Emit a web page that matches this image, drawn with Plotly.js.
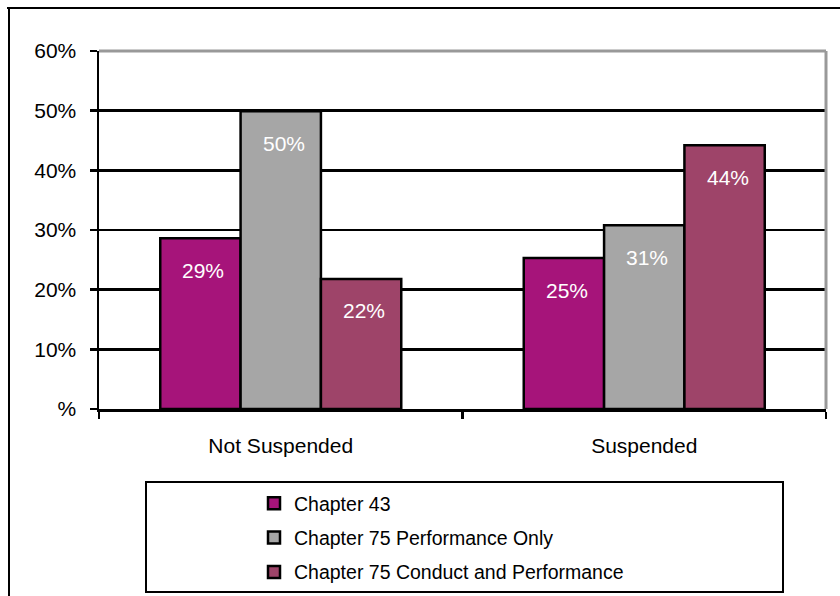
<!DOCTYPE html>
<html>
<head>
<meta charset="utf-8">
<script src="https://cdn.plot.ly/plotly-3.0.1.min.js"></script>
<style>
  html, body { margin: 0; padding: 0; background: #ffffff; }
  #chart { width: 840px; height: 596px; }
</style>
</head>
<body>
<div id="chart"></div>
<script>
// ---- data ----
var categories = ["Not Suspended", "Suspended"];
var seriesNames = ["Chapter 43", "Chapter 75 Performance Only", "Chapter 75 Conduct and Performance"];
var chapter43 = [28.6, 25.3];
var ch75Performance = [49.9, 30.8];
var ch75Conduct = [21.8, 44.2];
var tickValues = [0, 10, 20, 30, 40, 50, 60];
var tickLabels = ["%", "10%", "20%", "30%", "40%", "50%", "60%"];

// ---- styles ----
var colors = ["#A6147A", "#A6A6A6", "#9E4469"];
var font = "'Liberation Sans', Arial, sans-serif";
var W = 840, H = 596;
var mL = 99, mR = 14, mT = 51, mB = 187;
var plotW = W - mL - mR, plotH = H - mT - mB;
var bargap = 0.337;

function px2x(px) { return (px - mL) / plotW; }
function px2y(py) { return (H - mB - py) / plotH; }

var seriesValues = [chapter43, ch75Performance, ch75Conduct];

var traces = seriesValues.map(function (vals, j) {
  return {
    type: "bar",
    name: seriesNames[j],
    x: categories,
    y: vals,
    legendgroup: "g" + j,
    marker: { color: colors[j], line: { color: "#000000", width: 2.5 } },
    hoverinfo: "skip"
  };
});

// value labels inside bars
var catW = plotW / categories.length;
var barW = catW * (1 - bargap) / seriesValues.length;
var annotations = [];
seriesValues.forEach(function (vals, j) {
  vals.forEach(function (v, i) {
    annotations.push({
      xref: "x", yref: "y",
      x: categories[i], y: v,
      xshift: (j - (seriesValues.length - 1) / 2) * barW + 3,
      yshift: -32,
      text: Math.round(v) + "%",
      showarrow: false,
      font: { family: font, size: 21, color: "#ffffff" },
      xanchor: "center", yanchor: "middle"
    });
  });
});

var shapes = [
  // gray top and right borders of plot area
  { type: "line", xref: "paper", yref: "paper", x0: 0, x1: 1, y0: 1, y1: 1,
    line: { color: "#999999", width: 3 }, layer: "above" },
  { type: "line", xref: "paper", yref: "paper", x0: 1, x1: 1, y0: 0, y1: 1,
    line: { color: "#999999", width: 3 }, layer: "above" },
  // outer frame (top and left)
  { type: "line", xref: "paper", yref: "paper", x0: px2x(7), x1: px2x(845), y0: px2y(8), y1: px2y(8),
    line: { color: "#000000", width: 2 } },
  { type: "line", xref: "paper", yref: "paper", x0: px2x(9), x1: px2x(9), y0: px2y(7), y1: px2y(600),
    line: { color: "#000000", width: 2 } },
  // legend box
  { type: "rect", xref: "paper", yref: "paper",
    x0: px2x(146), x1: px2x(783), y0: px2y(592), y1: px2y(482),
    line: { color: "#000000", width: 2 }, fillcolor: "rgba(0,0,0,0)" }
];

var layout = {
  width: W, height: H,
  margin: { l: mL, r: mR, t: mT, b: mB, pad: 0, autoexpand: false },
  paper_bgcolor: "#ffffff",
  plot_bgcolor: "#ffffff",
  barmode: "group",
  bargap: bargap,
  bargroupgap: 0,
  showlegend: true,
  font: { family: font, color: "#000000" },
  xaxis: {
    type: "category",
    showline: true, linecolor: "#000000", linewidth: 2.5,
    ticks: "outside", tickson: "boundaries", ticklen: 7, tickwidth: 2.5, tickcolor: "#000000",
    tickfont: { family: font, size: 21, color: "#000000" },
    ticklabelstandoff: 16,
    showgrid: false, zeroline: false, fixedrange: true, automargin: false
  },
  yaxis: {
    range: [0, 60],
    tickvals: tickValues, ticktext: tickLabels,
    showline: true, linecolor: "#000000", linewidth: 2.5,
    ticks: "outside", ticklen: 7, tickwidth: 2.5, tickcolor: "#000000",
    tickfont: { family: font, size: 21, color: "#000000" },
    ticklabelstandoff: 9,
    showgrid: true, gridcolor: "#000000", gridwidth: 2.5,
    zeroline: false, fixedrange: true, automargin: false
  },
  legend: {
    x: px2x(254), xanchor: "left",
    y: px2y(484), yanchor: "top",
    bgcolor: "rgba(0,0,0,0)", borderwidth: 0,
    traceorder: "grouped", tracegroupgap: 6,
    font: { family: font, size: 19.5, color: "#000000" }
  },
  shapes: shapes,
  annotations: annotations
};

Plotly.newPlot("chart", traces, layout, { displayModeBar: false, staticPlot: true });
</script>
</body>
</html>
